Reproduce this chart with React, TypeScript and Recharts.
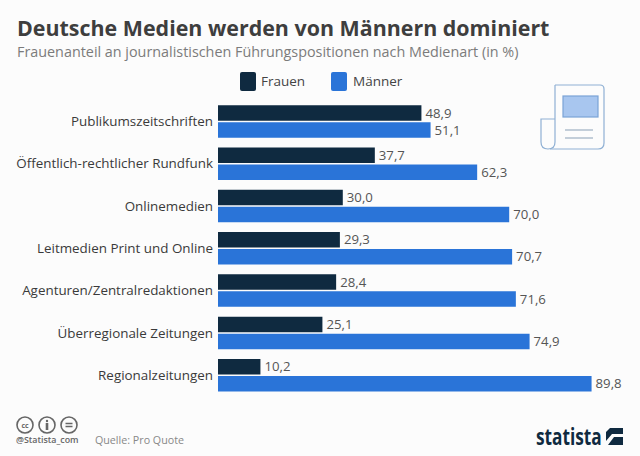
import React from "react";
import { BarChart, Bar, XAxis, YAxis, LabelList } from "recharts";

const categories = [
  "Publikumszeitschriften",
  "Öffentlich-rechtlicher Rundfunk",
  "Onlinemedien",
  "Leitmedien Print und Online",
  "Agenturen/Zentralredaktionen",
  "Überregionale Zeitungen",
  "Regionalzeitungen",
];
const frauen = [48.9, 37.7, 30.0, 29.3, 28.4, 25.1, 10.2];
const maenner = [51.1, 62.3, 70.0, 70.7, 71.6, 74.9, 89.8];

const data = categories.map((name, i) => ({ name, Frauen: frauen[i], Männer: maenner[i] }));

const font = "'Open Sans', sans-serif";
const DARK = "#0f2a40";
const BLUE = "#2a74d8";

const fmt = (v: any) => Number(v).toFixed(1).replace(".", ",");

const abs = (left: number, top: number, size: number, color: string, extra: React.CSSProperties = {}): React.CSSProperties => ({
  position: "absolute",
  left,
  top,
  fontSize: size,
  color,
  fontFamily: font,
  whiteSpace: "nowrap",
  lineHeight: 1,
  transformOrigin: "left top",
  ...extra,
});

export default function App() {
  return (
    <div style={{ position: "absolute", left: 0, top: 0, width: 640, height: 456, background: "#fcfcfc", overflow: "hidden" }}>
      <BarChart
        width={640}
        height={456}
        data={data}
        layout="vertical"
        margin={{ top: 100.2, right: 6, bottom: 59.8, left: 0 }}
        barCategoryGap={6}
        barGap={1.5}
        style={{ position: "absolute", left: 0, top: 0 }}
      >
        <XAxis type="number" hide domain={[0, 100]} />
        <YAxis
          type="category"
          dataKey="name"
          width={218}
          axisLine={false}
          tickLine={false}
          tickSize={0}
          tickMargin={5}
          interval={0}
          tick={{ fontSize: 13.4, fill: "#3a3a3a", fontFamily: font }}
        />
        <Bar dataKey="Frauen" fill={DARK} barSize={15.5} isAnimationActive={false}>
          <LabelList dataKey="Frauen" position="right" offset={4} formatter={fmt} style={{ fontSize: 13.2, fill: "#555", fontFamily: font }} />
        </Bar>
        <Bar dataKey="Männer" fill={BLUE} barSize={15.5} isAnimationActive={false}>
          <LabelList dataKey="Männer" position="right" offset={4} formatter={fmt} style={{ fontSize: 13.2, fill: "#555", fontFamily: font }} />
        </Bar>
      </BarChart>

      <div style={abs(17, 16, 22, "#3e3e3e", { fontWeight: 700, transform: "scaleX(0.973)" })}>Deutsche Medien werden von Männern dominiert</div>
      <div style={abs(17, 44, 15, "#7b7b7b", { transform: "scaleX(0.957)" })}>Frauenanteil an journalistischen Führungspositionen nach Medienart (in %)</div>

      {/* legend */}
      <div style={{ position: "absolute", left: 240, top: 72, width: 16, height: 19, background: DARK, borderRadius: 2 }} />
      <div style={abs(261, 75, 13.5, "#444")}>Frauen</div>
      <div style={{ position: "absolute", left: 331, top: 72, width: 16, height: 19, background: BLUE, borderRadius: 2 }} />
      <div style={abs(353, 75, 13.5, "#444")}>Männer</div>

      {/* newspaper icon */}
      <svg width={100} height={90} style={{ position: "absolute", left: 530, top: 70 }} fill="none" stroke="#8fb0d4" strokeWidth={1.2}>
        <path d="M25 15 Q25 15 29 15 H70 Q74 15 74 19 V73 Q74 79 68 79 H20" />
        <path d="M25 15 V72 Q25 79 18 79 Q11 79 11 72 V49 H25" />
        <rect x={33} y={26} width={35} height={21} fill="#a8c6ef" stroke="#7ba3d6" />
        <path d="M35 60 H63 M35 68 H63" stroke="#8a9fb5" />
      </svg>

      {/* footer */}
      <svg width={70} height={20} style={{ position: "absolute", left: 15, top: 415 }} fill="none" stroke="#666" strokeWidth={1.6}>
        <circle cx={10} cy={10} r={8} />
        <circle cx={32} cy={10} r={8} />
        <circle cx={54} cy={10} r={8} />
        <circle cx={32} cy={6} r={1.2} fill="#666" stroke="none" />
        <path d="M32 8 V15" strokeWidth={2.6} />
        <path d="M50.5 8.5 H57.5 M50.5 11.5 H57.5" />
        <text x={10} y={12.5} fontSize={7} fontWeight={700} textAnchor="middle" fill="#666" stroke="none" fontFamily={font}>cc</text>
      </svg>
      <div style={abs(16, 436, 8.9, "#666", { fontWeight: 600 })}>@Statista_com</div>
      <div style={abs(95, 435, 10.7, "#888")}>Quelle: Pro Quote</div>
      <div style={abs(536, 424.6, 23, DARK, { fontWeight: 700, transform: "scaleX(0.75)" })}>statista</div>
      <svg width={17} height={17} style={{ position: "absolute", left: 606, top: 428 }}>
        <rect width={17} height={17} fill={DARK} />
        <path d="M0 0 H4 L0 4 Z" fill="#fcfcfc" />
        <path d="M0 13 L6 6 H17 V9 H8 L2 17 H0 Z" fill="#fcfcfc" />
      </svg>
    </div>
  );
}
